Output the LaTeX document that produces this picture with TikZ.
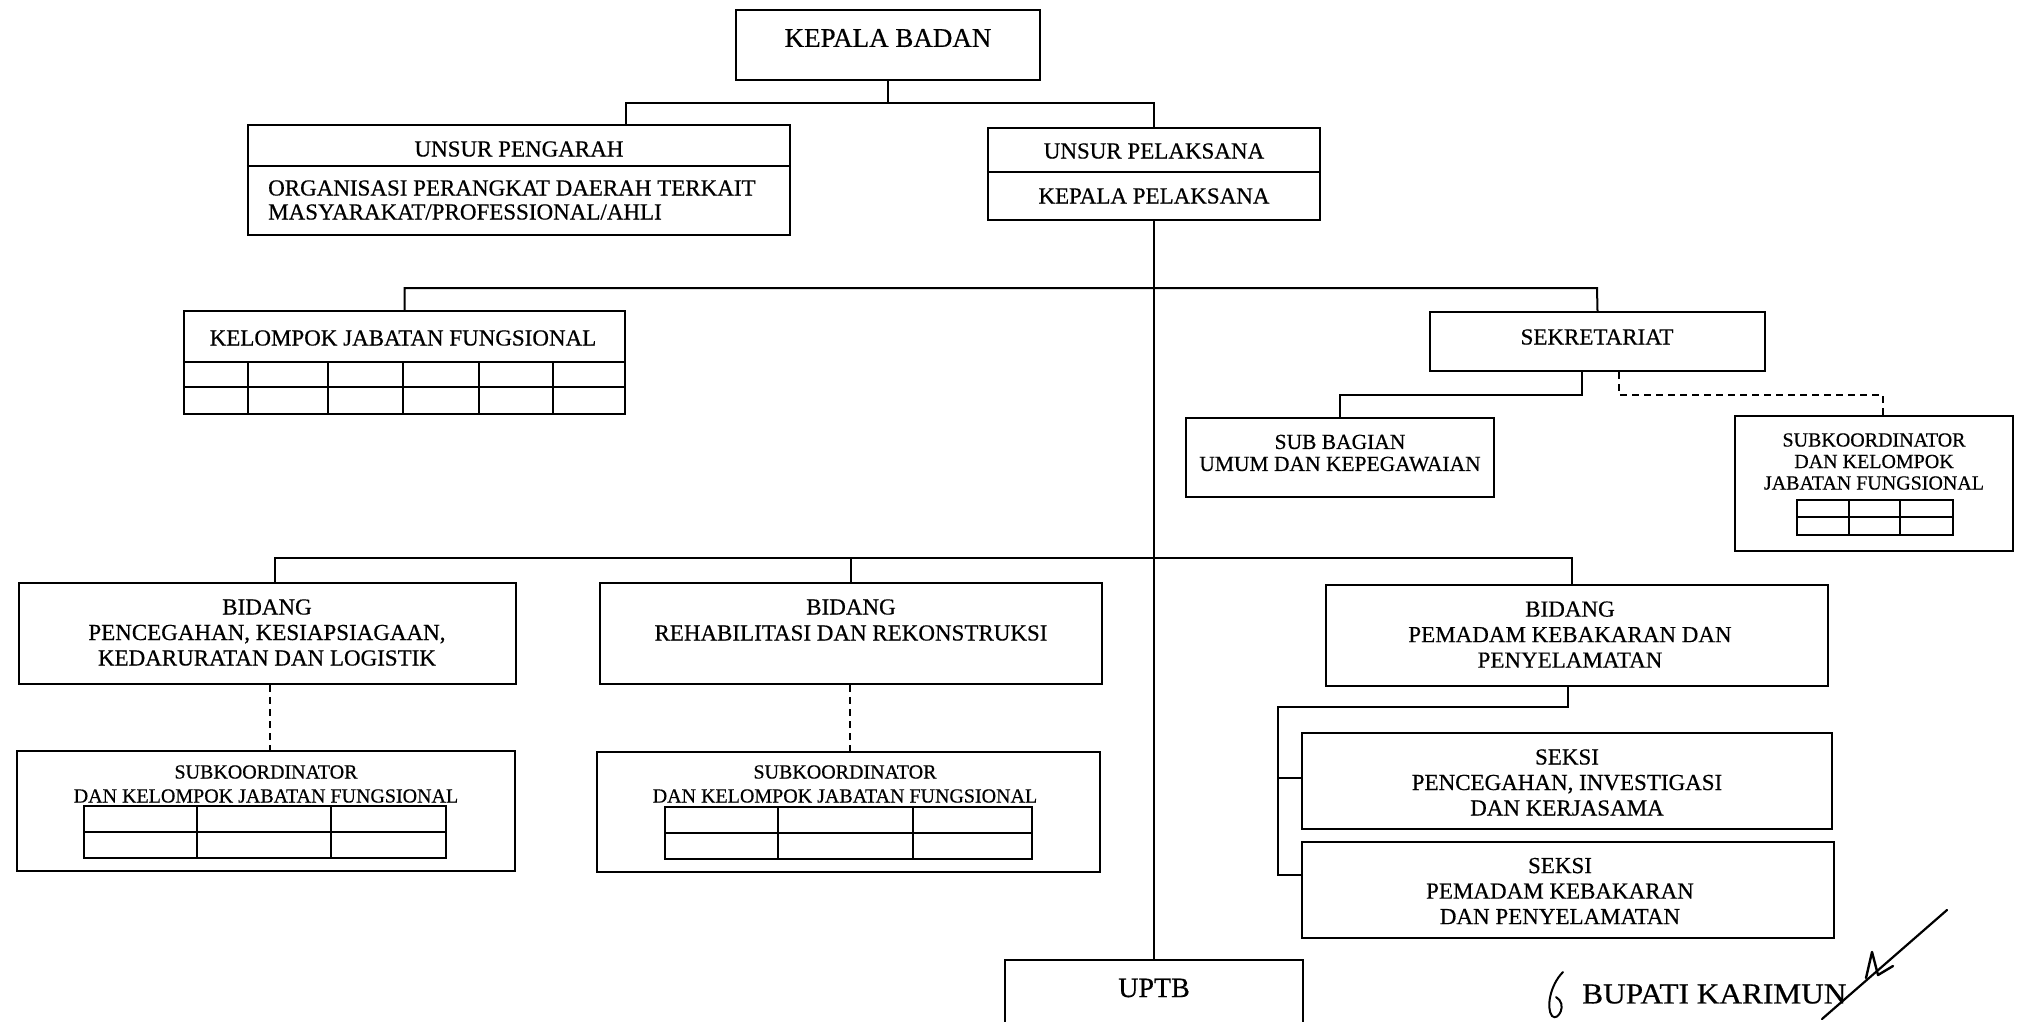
\documentclass[tikz,border=0pt]{standalone}
\usepackage{fontspec}
\setmainfont{Liberation Serif}[FakeBold=0.5]
\begin{document}
\begin{tikzpicture}[x=1pt,y=-1pt,
  box/.style={draw, line width=2.4pt, inner sep=0pt},
  conn/.style={line width=2pt},
  dconn/.style={line width=2pt, dash pattern=on 7pt off 5pt},
  tbl/.style={line width=2pt},
  lbl/.style={inner sep=0pt, align=center, font=\fontsize{23}{25.5}\selectfont},
  small/.style={inner sep=0pt, align=center, font=\fontsize{20}{24}\selectfont},
  big/.style={inner sep=0pt, align=center, font=\fontsize{28}{30}\selectfont}]
\useasboundingbox[fill=white] (0,0) rectangle (2026,1022);

% ---------- boxes ----------
\node[box, minimum width=304pt, minimum height=70pt] (kb) at (888,45) {};
\node[box, minimum width=542pt, minimum height=110pt] (up) at (519,180) {};
\node[box, minimum width=332pt, minimum height=92pt] (pl) at (1154,174) {};
\node[box, minimum width=441pt, minimum height=103pt] (kjf) at (404.5,362.5) {};
\node[box, minimum width=335pt, minimum height=59pt] (sek) at (1597.5,341.5) {};
\node[box, minimum width=308pt, minimum height=79pt] (sb) at (1340,457.5) {};
\node[box, minimum width=278pt, minimum height=135pt] (skr) at (1874,483.5) {};
\node[box, minimum width=497pt, minimum height=101pt] (b1) at (267.5,633.5) {};
\node[box, minimum width=502pt, minimum height=101pt] (b2) at (851,633.5) {};
\node[box, minimum width=502pt, minimum height=101pt] (b3) at (1577,635.5) {};
\node[box, minimum width=498pt, minimum height=120pt] (s1) at (266,811) {};
\node[box, minimum width=503pt, minimum height=120pt] (s2) at (848.5,812) {};
\node[box, minimum width=530pt, minimum height=96pt] (sk1) at (1567,781) {};
\node[box, minimum width=532pt, minimum height=96pt] (sk2) at (1568,890) {};
\node[box, minimum width=298pt, minimum height=80pt] (uptb) at (1154,1000) {};

% dividers inside boxes
\draw[tbl] (up.west |- 0,166) -- (up.east |- 0,166);
\draw[tbl] (pl.west |- 0,172) -- (pl.east |- 0,172);

% KJF table
\draw[tbl] (kjf.west |- 0,362) -- (kjf.east |- 0,362);
\draw[tbl] (kjf.west |- 0,387) -- (kjf.east |- 0,387);
\foreach \xx in {248,328,403,479,553} \draw[tbl] (\xx,362) -- (\xx,414);

% right subkoordinator table
\draw[tbl] (1797,500) rectangle (1953,535);
\draw[tbl] (1797,517) -- (1953,517);
\foreach \xx in {1849,1900} \draw[tbl] (\xx,500) -- (\xx,535);

% subkoordinator 1 table
\draw[tbl] (84,806) rectangle (446,858);
\draw[tbl] (84,832) -- (446,832);
\foreach \xx in {197,331} \draw[tbl] (\xx,806) -- (\xx,858);

% subkoordinator 2 table
\draw[tbl] (665,807) rectangle (1032,859);
\draw[tbl] (665,833) -- (1032,833);
\foreach \xx in {778,913} \draw[tbl] (\xx,807) -- (\xx,859);

% ---------- texts ----------
\node[big, font=\fontsize{27}{30}\selectfont] (tkb) at (888,38) {KEPALA BADAN};
\node[lbl] (tup1) at (519,149) {UNSUR PENGARAH};
\node[lbl, align=left, anchor=west, font=\fontsize{23}{24}\selectfont] (tup2) at (268,200)
  {ORGANISASI PERANGKAT DAERAH TERKAIT\\MASYARAKAT/PROFESSIONAL/AHLI};
\node[lbl] (tpl1) at (1154,151) {UNSUR PELAKSANA};
\node[lbl] (tpl2) at (1154,196) {KEPALA PELAKSANA};
\node[lbl] (tkjf) at (403,338) {KELOMPOK JABATAN FUNGSIONAL};
\node[lbl] (tsek) at (1597,337) {SEKRETARIAT};
\node[lbl, font=\fontsize{21.5}{22}\selectfont] (tsb) at (1340,453) {SUB BAGIAN\\UMUM DAN KEPEGAWAIAN};
\node[small, font=\fontsize{20}{21.5}\selectfont] (tskr) at (1874,461.5)
  {SUBKOORDINATOR\\DAN KELOMPOK\\JABATAN FUNGSIONAL};
\node[lbl] (tb1) at (267,632.5) {BIDANG\\PENCEGAHAN, KESIAPSIAGAAN,\\KEDARURATAN DAN LOGISTIK};
\node[lbl, font=\fontsize{23}{26}\selectfont] (tb2) at (851,620) {BIDANG\\REHABILITASI DAN REKONSTRUKSI};
\node[lbl] (tb3) at (1570,634.5) {BIDANG\\PEMADAM KEBAKARAN DAN\\PENYELAMATAN};
\node[small] (ts1) at (266,784) {SUBKOORDINATOR\\DAN KELOMPOK JABATAN FUNGSIONAL};
\node[small] (ts2) at (845,784) {SUBKOORDINATOR\\DAN KELOMPOK JABATAN FUNGSIONAL};
\node[lbl] (tsk1) at (1567,782.5) {SEKSI\\PENCEGAHAN, INVESTIGASI\\DAN KERJASAMA};
\node[lbl] (tsk2) at (1560,891) {SEKSI\\PEMADAM KEBAKARAN\\DAN PENYELAMATAN};
\node[big] (tuptb) at (1154,988) {UPTB};
\node[big, anchor=west, xscale=1.08, font=\fontsize{29}{30}\selectfont] (tbup) at (1582,994) {BUPATI KARIMUN};

% ---------- connectors ----------
\coordinate (j1) at (626,103);
\coordinate (j2) at (1154,103);
\draw[conn] (kb.south) |- (j1) -- (j1 |- up.north);
\draw[conn] (kb.south |- j1) -- (j2) -- (pl.north);
\draw[conn] (pl.south) -- (uptb.north);

\coordinate (j4) at (1597,288);
\draw[conn] (kjf.north) |- (j4) -- (sek.north);

\coordinate (j5) at (1582,395);
\draw[conn] (j5 |- sek.south) -- (j5) -| (sb.north);
\coordinate (j6) at (1619,395);
\coordinate (j7) at (1883,395);
\draw[dconn] (j6 |- sek.south) -- (j6) -- (j7) -- (j7 |- skr.north);

\coordinate (j8) at (275,558);
\coordinate (j9) at (1572,558);
\draw[conn] (j8 |- b1.north) -- (j8) -- (j9) -- (j9 |- b3.north);
\draw[conn] (b2.north) -- (b2.north |- j8);

\coordinate (d1) at (270,700);
\coordinate (d2) at (850,700);
\draw[dconn] (d1 |- b1.south) -- (d1 |- s1.north);
\draw[dconn] (d2 |- b2.south) -- (d2 |- s2.north);

\coordinate (j10) at (1568,707);
\coordinate (j11) at (1278,707);
\coordinate (j12) at (1278,778);
\coordinate (j13) at (1278,875);
\draw[conn] (j10 |- b3.south) -- (j10) -- (j11) -- (j13) -- (sk2.west |- j13);
\draw[conn] (j12) -- (sk1.west |- j12);

% ---------- signature ----------
\draw[line width=2pt, line cap=round] (1563,972) .. controls (1550,985) and (1546,1008) .. (1552,1016)
  .. controls (1558,1022) and (1568,1004) .. (1556,997);
\draw[line width=2.2pt, line cap=round] (1822,1019) -- (1947,910);
\draw[line width=2.4pt, line cap=round, line join=round] (1866,978) -- (1872,952) -- (1878,975) -- (1893,966);
\end{tikzpicture}
\end{document}
